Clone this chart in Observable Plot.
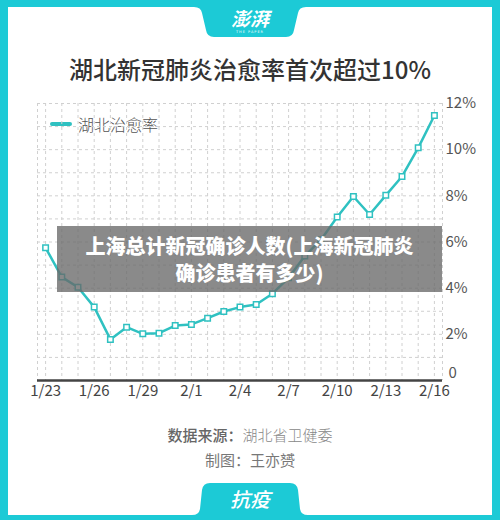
<!DOCTYPE html>
<html><head><meta charset="utf-8">
<script src="https://cdn.jsdelivr.net/npm/d3@7"></script>
<script src="https://cdn.jsdelivr.net/npm/@observablehq/plot@0.6"></script>
<style>
html,body{margin:0;padding:0;background:#1ccad6;}
#frame{position:relative;width:500px;height:520px;background:#1ccad6;overflow:hidden;font-family:"Noto Sans CJK SC","Noto Sans",sans-serif;}
#card{position:absolute;left:8px;top:7px;width:484px;height:508px;background:#fff;}
#deco{position:absolute;left:0;top:0;}
#title{position:absolute;left:0;width:500px;top:52px;text-align:center;font-size:24px;font-weight:500;color:#333;line-height:34px;}
#legend{position:absolute;left:50px;top:113px;height:22px;display:flex;align-items:center;font-size:16px;font-weight:300;color:#555;}
#legend .sw{width:22px;height:4px;border-radius:2px;background:#2fc1c1;margin-right:6px;}
#chart{position:absolute;left:0;top:90px;}
#overlay{position:absolute;left:57px;top:226px;width:385px;height:66px;background:rgba(105,105,105,0.78);color:#fff;font-weight:900;font-size:20px;line-height:27px;text-align:center;display:flex;align-items:center;justify-content:center;}
#cap1,#cap2{position:absolute;left:0;width:500px;text-align:center;font-size:15px;line-height:20px;}
#cap1{top:425px;color:#888;font-weight:300;}
#cap1 b{color:#666;font-weight:500;}
#cap2{top:450px;color:#777;}
</style></head>
<body>
<div id="frame">
  <div id="card"></div>
  <svg id="deco" width="500" height="520">
    <path d="M194,7 Q201,7 202,13 L206,30 Q207,37 214,37 L286,37 Q293,37 294,30 L298,13 Q299,7 306,7 Z" fill="#1ccad6"/>
    <text x="250" y="26" text-anchor="middle" fill="#fff" font-size="19" font-style="italic" font-weight="700" font-family="Noto Sans CJK SC">澎湃</text>
    <text x="250" y="33" text-anchor="middle" fill="#fff" font-size="3.5" letter-spacing="1" font-family="DejaVu Sans">THE PAPER</text>
    <path d="M192,515 Q199,515 200,509 L202,490 Q203,483 210,483 L290,483 Q297,483 298,490 L300,509 Q301,515 308,515 Z" fill="#1ccad6"/>
    <text x="250" y="507" text-anchor="middle" fill="#fff" font-size="20" font-style="italic" font-weight="500" font-family="Noto Sans CJK SC">抗疫</text>
  </svg>
  <div id="title">湖北新冠肺炎治愈率首次超过10%</div>
  <div id="legend"><div class="sw"></div>湖北治愈率</div>
  <div id="chart"></div>
  <div id="overlay">上海总计新冠确诊人数(上海新冠肺炎<br>确诊患者有多少)</div>
  <div id="cap1"><b>数据来源：</b>湖北省卫健委</div>
  <div id="cap2">制图：王亦赟</div>
</div>
<script>
const days = ["1/23","1/24","1/25","1/26","1/27","1/28","1/29","1/30","1/31","2/1","2/2","2/3","2/4","2/5","2/6","2/7","2/8","2/9","2/10","2/11","2/12","2/13","2/14","2/15","2/16"];
const cureRate = [5.75,4.48,4.04,3.18,1.78,2.31,2.02,2.05,2.38,2.43,2.70,2.99,3.18,3.29,3.76,4.45,5.39,6.10,7.08,7.97,7.19,8.02,8.84,10.08,11.48];
const xTickLabels = ["1/23","1/26","1/29","2/1","2/4","2/7","2/10","2/13","2/16"];
const yTickValues = [0,2,4,6,8,10,12];

const toDate = s => { const [m,d] = s.split("/").map(Number); return new Date(Date.UTC(2020, m-1, d)); };
const data = days.map((d,i) => ({date: toDate(d), rate: cureRate[i]}));
const halfDay = 12*3600*1000;
const x0 = new Date(toDate(days[0]) - halfDay), x1 = new Date(+toDate(days[days.length-1]) + halfDay);
const gridDates = [x0, ...data.map(d => d.date), x1];
const fmt = d3.utcFormat("%-m/%-d");
const teal = "#2fc1c1";

const chart = Plot.plot({
  width: 500, height: 320,
  marginLeft: 37, marginRight: 58, marginTop: 13, marginBottom: 30,
  style: {fontFamily: '"Noto Sans CJK SC","Noto Sans",sans-serif', background: "transparent", color: "#555"},
  x: {type: "utc", domain: [x0, x1], label: null},
  y: {domain: [0, 12], label: null},
  marks: [
    Plot.gridY(d3.range(0, 13), {stroke: "#d0d0d0", strokeOpacity: 1, strokeDasharray: "3,3"}),
    Plot.gridX(gridDates, {stroke: "#d0d0d0", strokeOpacity: 1, strokeDasharray: "3,3"}),
    Plot.ruleY([0], {stroke: "#444", strokeWidth: 2.5}),
    Plot.line(data, {x: "date", y: "rate", stroke: teal, strokeWidth: 2.5}),
    Plot.dot(data, {x: "date", y: "rate", symbol: "square", r: 3.1, fill: "white", stroke: teal, strokeWidth: 1.5}),
    Plot.axisX(xTickLabels.map(toDate), {label: null, tickSize: 0, tickPadding: 5, tickFormat: fmt, fontSize: 15, fill: "#444"}),
    Plot.axisY(yTickValues.filter(v => v > 0), {anchor: "right", label: null, tickSize: 0, tickPadding: 3, tickFormat: d => d + "%", fontSize: 15, fill: "#555"}),
    Plot.axisY([0], {anchor: "right", label: null, tickSize: 0, tickPadding: 6, tickFormat: d => "0", fontSize: 15, fill: "#555", dy: -7})
  ]
});
document.getElementById("chart").appendChild(chart);
</script>
</body></html>
